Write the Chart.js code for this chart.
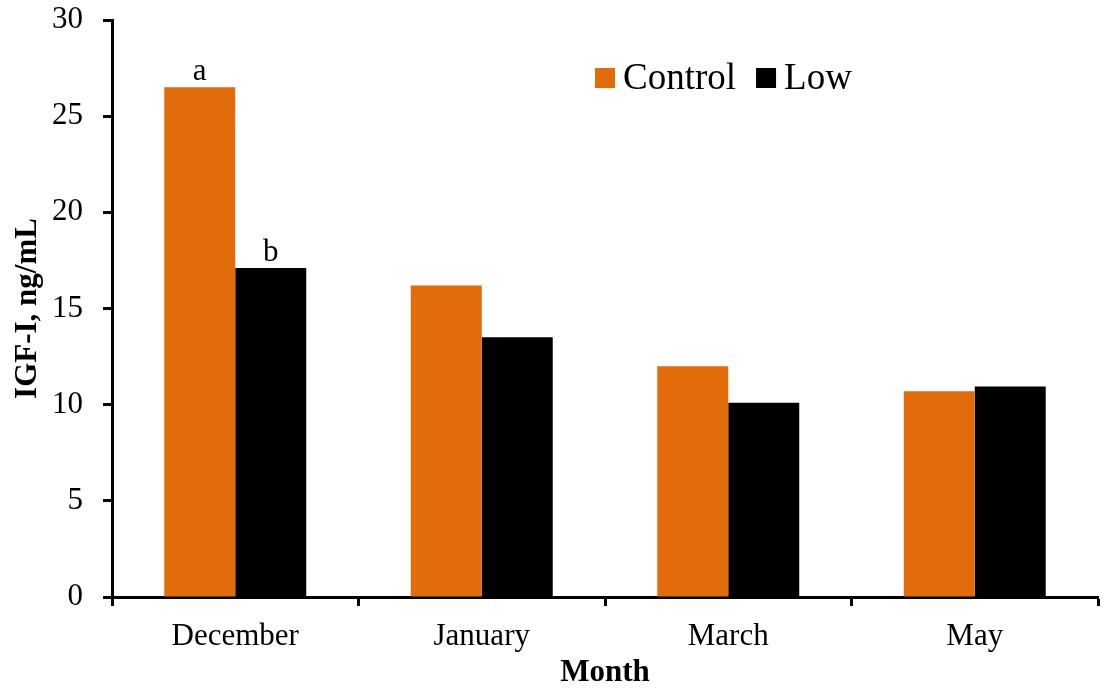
<!DOCTYPE html>
<html>
<head>
<meta charset="utf-8">
<script src="https://cdn.jsdelivr.net/npm/chart.js@4/dist/chart.umd.min.js"></script>
<style>
  html, body { margin: 0; padding: 0; background: #ffffff; }
  #wrap { width: 1107px; height: 688px; position: relative; }
</style>
</head>
<body>
<div id="wrap"><canvas id="c" width="1107" height="688"></canvas></div>
<script>
const categories = ["December", "January", "March", "May"];
const controlValues = [26.5, 16.2, 12.0, 10.7];
const lowValues = [17.1, 13.5, 10.1, 10.95];
const controlLetters = ["a", "", "", ""];
const lowLetters = ["b", "", "", ""];
const yTicks = [0, 5, 10, 15, 20, 25, 30];
const seriesNames = ["Control", "Low"];

const FONT = '"Liberation Serif", "Times New Roman", serif';
const ORANGE = '#E36C0A';

const letterPlugin = {
  id: 'letters',
  afterDatasetsDraw(chart) {
    const ctx = chart.ctx;
    ctx.save();
    ctx.font = '31px ' + FONT;
    ctx.fillStyle = '#000';
    ctx.textAlign = 'center';
    ctx.textBaseline = 'alphabetic';
    const sets = [controlLetters, lowLetters];
    sets.forEach((letters, di) => {
      const meta = chart.getDatasetMeta(di);
      letters.forEach((t, i) => {
        if (!t) return;
        const el = meta.data[i];
        ctx.fillText(t, el.x, el.y - 7);
      });
    });
    ctx.restore();
  }
};

const legendPlugin = {
  id: 'customLegend',
  afterDraw(chart) {
    const ctx = chart.ctx;
    ctx.save();
    ctx.font = '37px ' + FONT;
    ctx.textBaseline = 'alphabetic';
    ctx.textAlign = 'left';
    let x = 595;
    const boxTop = 68, box = 20, baseline = 89;
    chart.data.datasets.forEach((ds) => {
      ctx.fillStyle = ds.backgroundColor;
      ctx.fillRect(x, boxTop, box, box);
      ctx.fillStyle = '#000';
      ctx.fillText(ds.label, x + box + 8, baseline);
      x += box + 8 + ctx.measureText(ds.label).width + 20;
    });
    ctx.restore();
  }
};

new Chart(document.getElementById('c'), {
  type: 'bar',
  data: {
    labels: categories,
    datasets: [
      { label: seriesNames[0], data: controlValues, backgroundColor: ORANGE, borderWidth: 0 },
      { label: seriesNames[1], data: lowValues, backgroundColor: '#000000', borderWidth: 0 }
    ]
  },
  options: {
    responsive: false,
    animation: false,
    devicePixelRatio: 1,
    layout: { padding: { top: 20, right: 9, left: 1, bottom: 0 } },
    datasets: { bar: { categoryPercentage: 0.576, barPercentage: 1.0 } },
    plugins: { legend: { display: false }, tooltip: { enabled: false } },
    scales: {
      x: {
        offset: true,
        grid: { display: true, drawOnChartArea: false, drawTicks: true, tickLength: 9, tickWidth: 3, color: '#000', offset: true },
        border: { display: true, color: '#000', width: 3 },
        ticks: { color: '#000', font: { family: FONT, size: 31 }, padding: 12 },
        title: { display: true, text: 'Month', color: '#000', font: { family: FONT, size: 31, weight: 'bold' }, padding: { top: 0, bottom: -4 } },
        afterFit(scale) { scale.height = 91; scale.paddingLeft = 0; scale.paddingRight = 0; }
      },
      y: {
        min: 0, max: 30,
        afterBuildTicks(scale) { scale.ticks = yTicks.map(v => ({ value: v })); },
        grid: { display: true, drawOnChartArea: false, drawTicks: true, tickLength: 9, tickWidth: 3, color: '#000' },
        border: { display: true, color: '#000', width: 3 },
        ticks: { color: '#000', font: { family: FONT, size: 31 }, padding: 20 },
        title: { display: true, text: 'IGF-I, ng/mL', color: '#000', font: { family: FONT, size: 31, weight: 'bold' }, padding: { top: 8, bottom: 0 } },
        afterFit(scale) { scale.width = 111; scale.paddingTop = 0; scale.paddingBottom = 0; }
      }
    }
  },
  plugins: [letterPlugin, legendPlugin]
});
</script>
</body>
</html>
